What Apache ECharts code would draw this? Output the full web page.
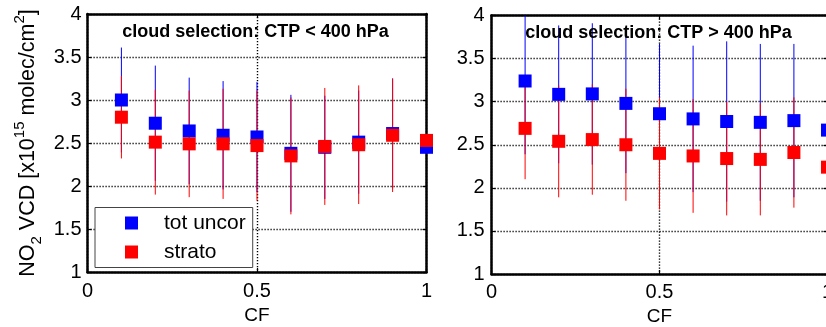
<!DOCTYPE html>
<html>
<head>
<meta charset="utf-8">
<script src="https://cdn.jsdelivr.net/npm/echarts@6/dist/echarts.min.js"></script>
<style>html,body{margin:0;padding:0;background:#fff;}#c{width:826px;height:327px;}</style>
</head>
<body>
<div id="c"></div>
<script>
// ---- data ----
const cf = [0.1, 0.2, 0.3, 0.4, 0.5, 0.6, 0.7, 0.8, 0.9, 1.0];
const leftTot        = [3.00, 2.73, 2.64, 2.59, 2.57, 2.38, 2.45, 2.51, 2.61, 2.45];
const leftTotErr     = [0.61, 0.67, 0.62, 0.63, 0.64, 0.68, 0.60, 0.60, 0.64, null];
const leftStrato     = [2.80, 2.51, 2.49, 2.49, 2.47, 2.35, 2.46, 2.48, 2.59, 2.53];
const leftStratoErr  = [0.48, 0.61, 0.62, 0.64, 0.64, 0.68, 0.68, 0.69, 0.66, null];
const rightTot       = [3.24, 3.085, 3.09, 2.98, 2.86, 2.80, 2.77, 2.76, 2.78, 2.67];
const rightTotErr    = [0.85, 0.80, 0.82, 0.81, 0.81, 0.85, 0.93, 0.91, 0.89, null];
const rightStrato    = [2.69, 2.54, 2.56, 2.50, 2.40, 2.37, 2.34, 2.33, 2.41, 2.24];
const rightStratoErr = [0.59, 0.65, 0.64, 0.65, 0.65, 0.66, 0.66, 0.65, 0.64, null];
const xTicks = [0, 0.5, 1];
const yTicks = [1, 1.5, 2, 2.5, 3, 3.5, 4];
const seriesNames = ['tot uncor', 'strato'];
const panelTitles = ['cloud selection: CTP < 400 hPa', 'cloud selection: CTP > 400 hPa'];
const xName = 'CF';

// ---- chart ----
const FONT = "'Liberation Sans', Arial, sans-serif";
const BLUE = '#0000ff', RED = '#ff0000';
const chart = echarts.init(document.getElementById('c'), null, {renderer: 'canvas'});

function pts(vals) { return cf.map((x, i) => [x, vals[i]]); }
function errs(vals, sd) { return cf.map((x, i) => [x, vals[i], sd[i] == null ? NaN : sd[i]]); }
function errRender(color) {
  return function (params, api) {
    const x = api.value(0), m = api.value(1), s = api.value(2);
    if (!isFinite(s)) return null;
    const p1 = api.coord([x, m + s]), p2 = api.coord([x, m - s]);
    return {type: 'line', shape: {x1: p1[0], y1: p1[1], x2: p2[0], y2: p2[1]},
      style: {stroke: color, lineWidth: 1}};
  };
}
const dotted = {show: true, lineStyle: {color: '#000', width: 1.4, type: [1.2, 1.8]}};
const axLine = {show: true, onZero: false, lineStyle: {color: '#000', width: 2.5}};
const tick = {show: true, inside: true, length: 4, lineStyle: {color: '#000', width: 1.2}};

function mainX(gi, gap, margin) {
  return {type: 'value', gridIndex: gi, min: xTicks[0], max: xTicks[xTicks.length - 1], interval: 0.5,
    position: 'bottom', axisLine: axLine, axisTick: tick, splitLine: dotted,
    axisLabel: {fontSize: 20, color: '#000', fontFamily: FONT, margin: margin},
    name: xName, nameLocation: 'middle', nameGap: gap,
    nameTextStyle: {fontSize: 19, color: '#000', fontFamily: FONT}};
}
function topX(gi) {
  return {type: 'value', gridIndex: gi, min: 0, max: 1, interval: 0.5, position: 'top',
    axisLine: axLine, axisTick: tick, splitLine: {show: false}, axisLabel: {show: false}};
}
function mainY(gi, margin, withName) {
  const o = {type: 'value', gridIndex: gi, min: yTicks[0], max: yTicks[yTicks.length - 1], interval: 0.5,
    position: 'left', axisLine: axLine, axisTick: tick, splitLine: dotted,
    axisLabel: {fontSize: 20, color: '#000', fontFamily: FONT, margin: margin}};
  if (withName) {
    o.name = '{a|NO}{s|2}{a| VCD [x10}{p|15}{a| molec/cm}{p|2}{a|]}';
    o.nameLocation = 'middle';
    o.nameRotate = 90;
    o.nameGap = 43;
    o.nameTextStyle = {color: '#000', fontFamily: FONT, rich: {
      a: {fontSize: 21.5, lineHeight: 32, color: '#000', fontFamily: FONT},
      s: {fontSize: 15, lineHeight: 15, verticalAlign: 'bottom', color: '#000', fontFamily: FONT},
      p: {fontSize: 15, lineHeight: 15, verticalAlign: 'top', color: '#000', fontFamily: FONT}
    }};
  }
  return o;
}
function rightY(gi) {
  return {type: 'value', gridIndex: gi, min: 1, max: 4, interval: 0.5, position: 'right',
    axisLine: axLine, axisTick: tick, splitLine: {show: false}, axisLabel: {show: false}};
}

function panelSeries(gi, tot, totErr, str, strErr) {
  const xi = gi * 2, yi = gi * 2;
  return [
    {type: 'custom', xAxisIndex: xi, yAxisIndex: yi, clip: true, z: 2, silent: true,
      renderItem: errRender(BLUE), encode: {x: 0, y: 1}, data: errs(tot, totErr)},
    {type: 'custom', xAxisIndex: xi, yAxisIndex: yi, clip: true, z: 2, silent: true,
      renderItem: errRender(RED), encode: {x: 0, y: 1}, data: errs(str, strErr)},
    {type: 'scatter', name: seriesNames[0], xAxisIndex: xi, yAxisIndex: yi, z: 3,
      symbol: 'rect', symbolSize: 13, itemStyle: {color: BLUE, opacity: 1}, data: pts(tot)},
    {type: 'scatter', name: seriesNames[1], xAxisIndex: xi, yAxisIndex: yi, z: 3,
      symbol: 'rect', symbolSize: 13, itemStyle: {color: RED, opacity: 1}, data: pts(str)}
  ];
}

const option = {
  backgroundColor: '#fff',
  animation: false,
  grid: [
    {left: 87.5, top: 14, width: 339, height: 258, outerBoundsMode: 'none', containLabel: false},
    {left: 491.5, top: 15.5, width: 336, height: 258.5, outerBoundsMode: 'none', containLabel: false}
  ],
  xAxis: [mainX(0, 33, 9), topX(0), mainX(1, 31, 8), topX(1)],
  yAxis: [mainY(0, 6, true), rightY(0), mainY(1, 7, false), rightY(1)],
  legend: {
    data: seriesNames, orient: 'vertical', left: 95, top: 207.5,
    padding: [5, 7, 5, 30], itemGap: 8, itemWidth: 13, itemHeight: 13, icon: 'rect',
    backgroundColor: '#fff', borderColor: '#444', borderWidth: 1, z: 10,
    textStyle: {fontSize: 21, color: '#000', fontFamily: FONT, padding: [0, 0, 0, 21]}
  },
  graphic: [
    {type: 'text', x: 255.5, y: 31.7, z: 5, silent: true,
      style: {text: panelTitles[0], font: 'bold 18px ' + FONT, fill: '#000',
        textAlign: 'center', textVerticalAlign: 'middle', align: 'center', verticalAlign: 'middle'}},
    {type: 'text', x: 658.5, y: 33.3, z: 5, silent: true,
      style: {text: panelTitles[1], font: 'bold 18px ' + FONT, fill: '#000',
        textAlign: 'center', textVerticalAlign: 'middle', align: 'center', verticalAlign: 'middle'}}
  ],
  series: [].concat(
    panelSeries(0, leftTot, leftTotErr, leftStrato, leftStratoErr),
    panelSeries(1, rightTot, rightTotErr, rightStrato, rightStratoErr)
  )
};
chart.setOption(option);
</script>
</body>
</html>
